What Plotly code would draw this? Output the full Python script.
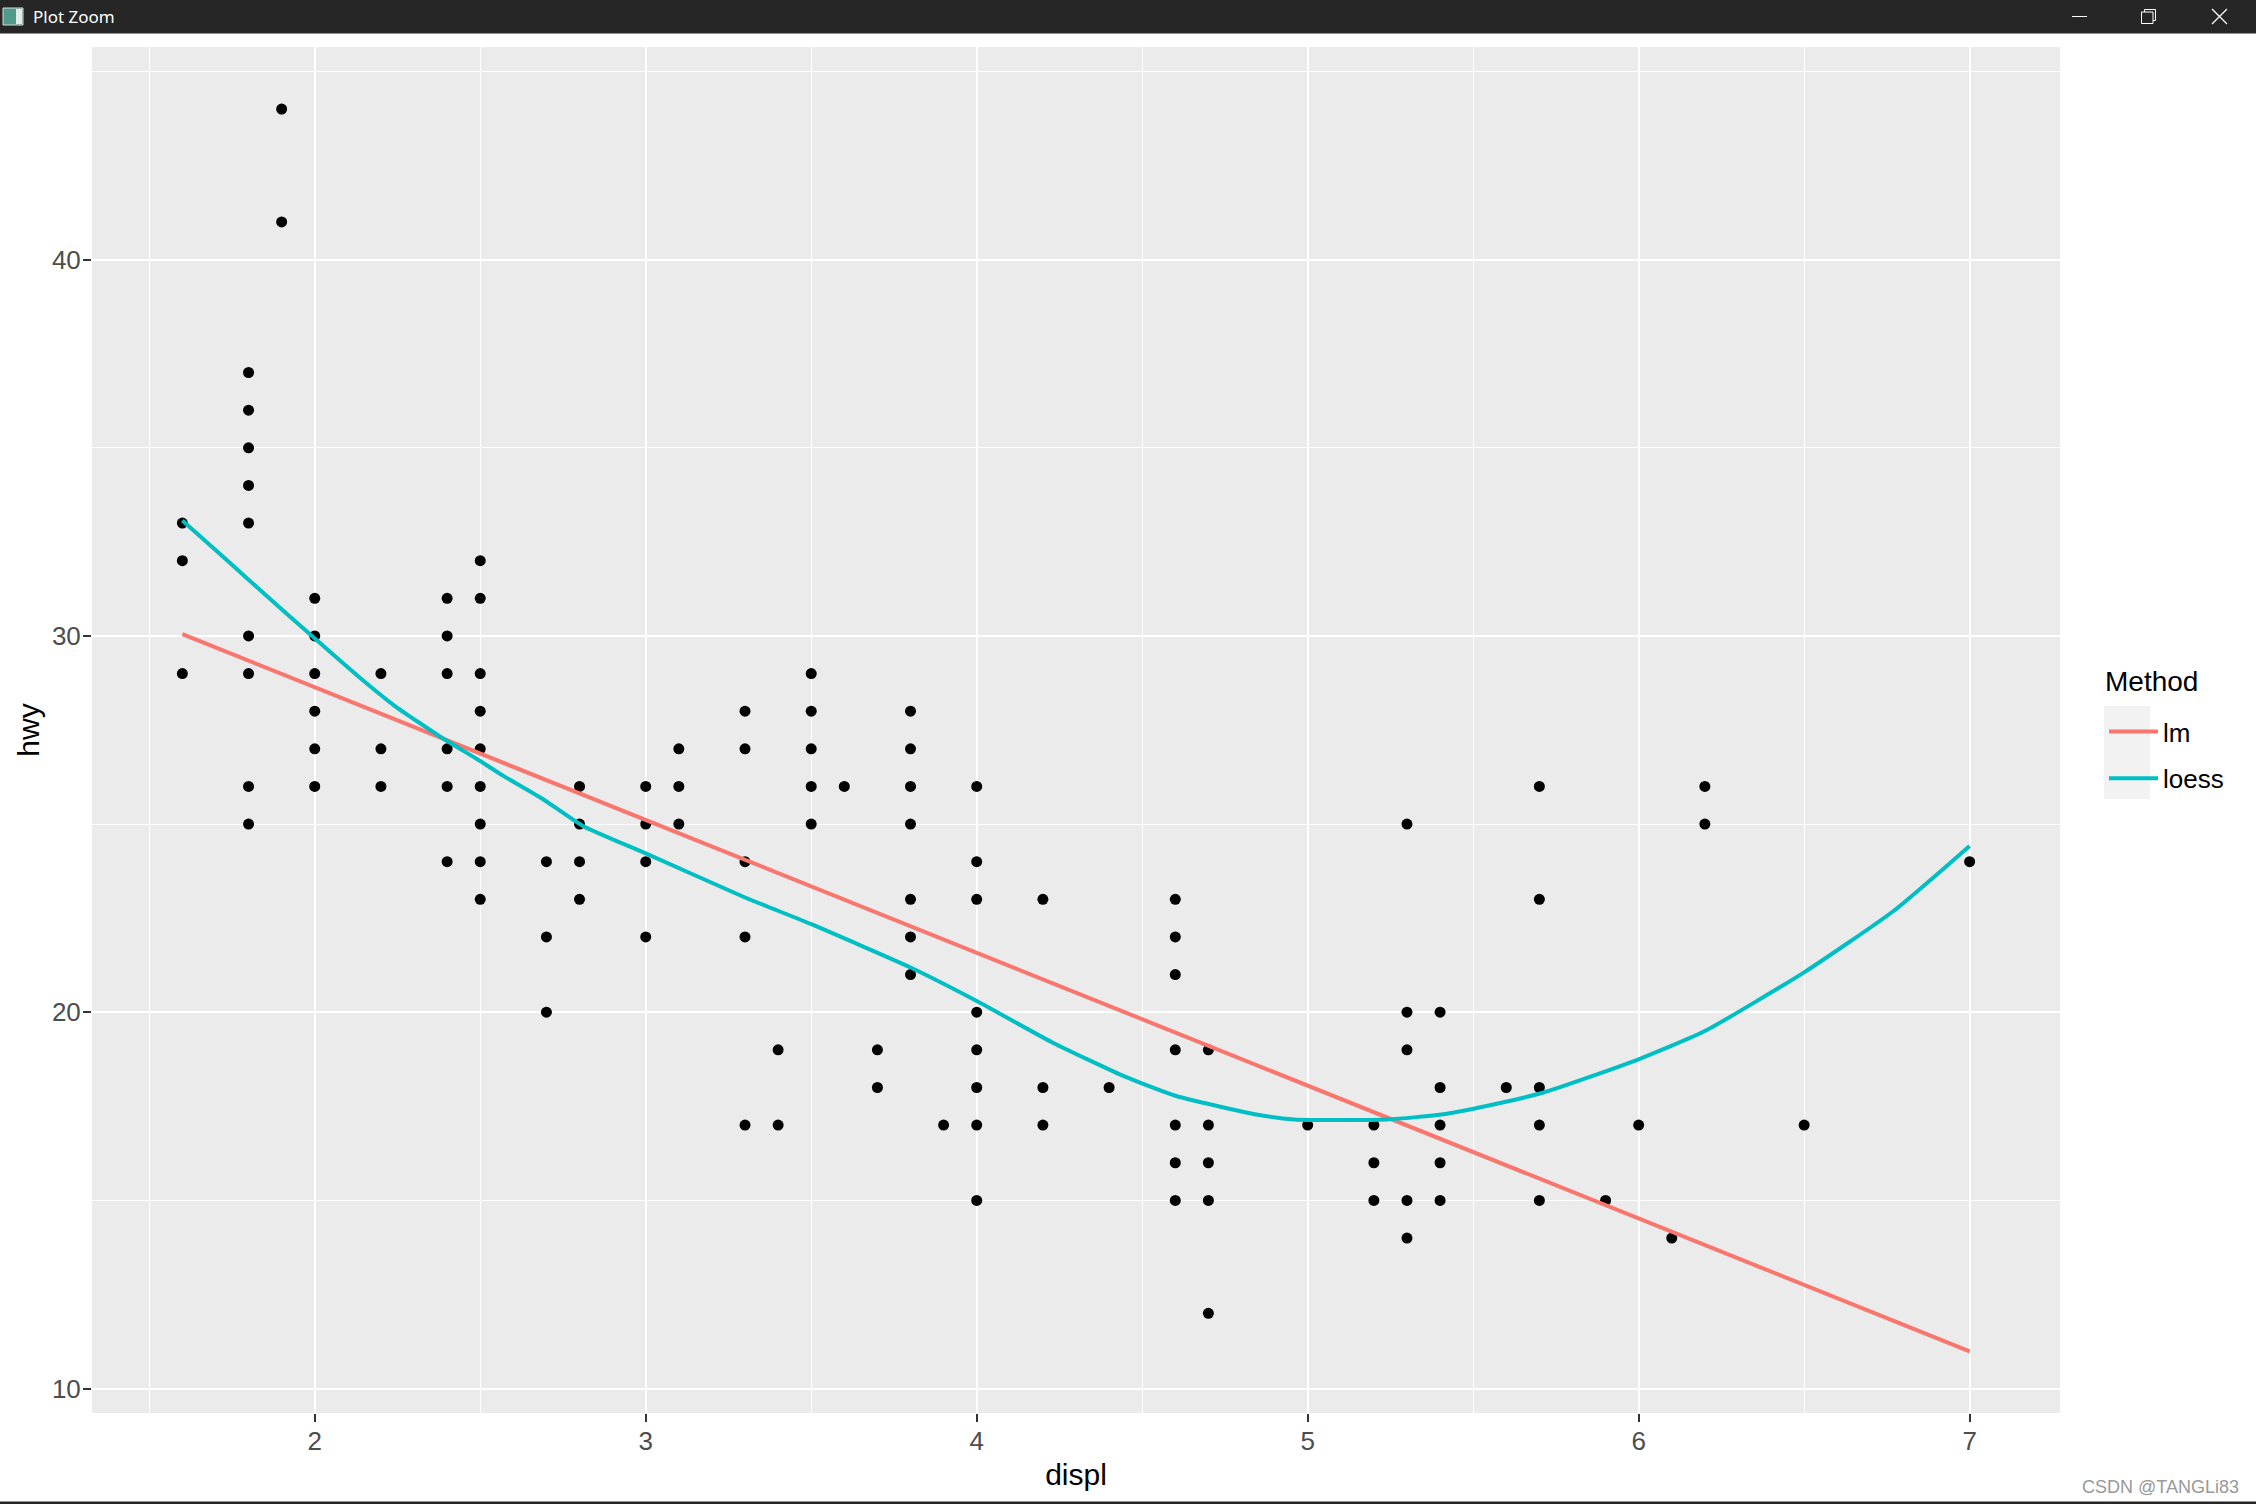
import plotly.graph_objects as go

# ---------------- data ----------------
displ = [1.6, 1.6, 1.6,
         1.8, 1.8, 1.8, 1.8, 1.8, 1.8, 1.8, 1.8, 1.8,
         1.9, 1.9,
         2.0, 2.0, 2.0, 2.0, 2.0, 2.0,
         2.2, 2.2, 2.2,
         2.4, 2.4, 2.4, 2.4, 2.4, 2.4,
         2.5, 2.5, 2.5, 2.5, 2.5, 2.5, 2.5, 2.5, 2.5,
         2.7, 2.7, 2.7,
         2.8, 2.8, 2.8, 2.8,
         3.0, 3.0, 3.0, 3.0,
         3.1, 3.1, 3.1,
         3.3, 3.3, 3.3, 3.3, 3.3,
         3.4, 3.4,
         3.5, 3.5, 3.5, 3.5, 3.5,
         3.6,
         3.7, 3.7,
         3.8, 3.8, 3.8, 3.8, 3.8, 3.8, 3.8,
         3.9,
         4.0, 4.0, 4.0, 4.0, 4.0, 4.0, 4.0, 4.0,
         4.2, 4.2, 4.2,
         4.4,
         4.6, 4.6, 4.6, 4.6, 4.6, 4.6, 4.6,
         4.7, 4.7, 4.7, 4.7, 4.7,
         5.0,
         5.2, 5.2, 5.2,
         5.3, 5.3, 5.3, 5.3, 5.3,
         5.4, 5.4, 5.4, 5.4, 5.4,
         5.6,
         5.7, 5.7, 5.7, 5.7, 5.7,
         5.9, 6.0, 6.1,
         6.2, 6.2,
         6.5, 7.0]
hwy = [33, 32, 29,
       37, 36, 35, 34, 33, 30, 29, 26, 25,
       44, 41,
       31, 30, 29, 28, 27, 26,
       29, 27, 26,
       31, 30, 29, 27, 26, 24,
       32, 31, 29, 28, 27, 26, 25, 24, 23,
       24, 22, 20,
       26, 25, 24, 23,
       26, 25, 24, 22,
       27, 26, 25,
       28, 27, 24, 22, 17,
       19, 17,
       29, 28, 27, 26, 25,
       26,
       19, 18,
       28, 27, 26, 25, 23, 22, 21,
       17,
       26, 24, 23, 20, 19, 18, 17, 15,
       23, 18, 17,
       18,
       23, 22, 21, 19, 17, 16, 15,
       19, 17, 16, 15, 12,
       17,
       17, 16, 15,
       25, 20, 19, 15, 14,
       20, 18, 17, 16, 15,
       18,
       26, 23, 18, 17, 15,
       15, 17, 14,
       26, 25,
       17, 24]

lm_x = [1.6, 7.0]
lm_y = [30.05, 10.99]

loess_x = [1.60, 1.74, 1.85, 1.99, 2.14, 2.24, 2.39, 2.49, 2.57, 2.69, 2.81,
           3.00, 3.30, 3.50, 3.80, 4.00, 4.23, 4.45, 4.60, 4.84, 4.96, 5.24,
           5.41, 5.54, 5.71, 6.00, 6.20, 6.50, 6.77, 7.00]
loess_y = [33.07, 31.97, 31.10, 30.01, 28.86, 28.15, 27.26, 26.73, 26.28, 25.66, 24.95,
           24.22, 23.05, 22.34, 21.19, 20.30, 19.19, 18.28, 17.78, 17.29, 17.15, 17.15,
           17.29, 17.51, 17.86, 18.75, 19.50, 21.06, 22.69, 24.42]

x_ticks = [2, 3, 4, 5, 6, 7]
y_ticks = [10, 20, 30, 40]
series_names = ["lm", "loess"]
series_colors = ["#F8766D", "#00BFC4"]
legend_title = "Method"

# ---------------- layout geometry ----------------
W, H = 2256, 1504
L, R, T, B = 92, 2060, 47, 1413
FONT = "Liberation Sans, Arial, sans-serif"


def px(x):
    return (x - L) / (R - L)


def py(y):
    return (B - y) / (B - T)


fig = go.Figure()
fig.add_trace(go.Scatter(x=displ, y=hwy, mode="markers",
                         marker=dict(color="black", size=11),
                         showlegend=False, hoverinfo="x+y"))
fig.add_trace(go.Scatter(x=lm_x, y=lm_y, mode="lines", name=series_names[0],
                         legendgroup=series_names[0],
                         line=dict(color=series_colors[0], width=4)))
fig.add_trace(go.Scatter(x=loess_x, y=loess_y, mode="lines", name=series_names[1],
                         legendgroup=series_names[1],
                         line=dict(color=series_colors[1], width=4,
                                   shape="spline", smoothing=0.5)))

tickfont = dict(family=FONT, size=26, color="#4D4D4D")
titlefont = dict(family=FONT, size=30, color="black")

fig.update_xaxes(range=[1.327, 7.273], tickvals=x_ticks, ticks="outside", ticklen=8,
                 tickwidth=2, tickcolor="#333333", tickfont=tickfont,
                 ticklabelstandoff=-3,
                 showgrid=True, gridcolor="white", gridwidth=2.4, zeroline=False,
                 showline=False,
                 minor=dict(tick0=0, dtick=0.5, showgrid=True, gridcolor="white",
                            gridwidth=1.2, ticks=""),
                 title=dict(text="displ", font=titlefont, standoff=8))
fig.update_yaxes(range=[9.35, 45.65], tickvals=y_ticks, ticks="outside", ticklen=8,
                 tickwidth=2, tickcolor="#333333", tickfont=tickfont,
                 ticklabelstandoff=-3,
                 showgrid=True, gridcolor="white", gridwidth=2.4, zeroline=False,
                 showline=False,
                 minor=dict(tick0=0, dtick=5, showgrid=True, gridcolor="white",
                            gridwidth=1.2, ticks=""),
                 title=dict(text="hwy", font=titlefont, standoff=3))

shapes = []
# legend key background
shapes.append(dict(type="rect", xref="paper", yref="paper",
                   x0=px(2104), x1=px(2150), y0=py(799), y1=py(706),
                   fillcolor="#F2F2F2", line=dict(width=0), layer="below"))
# window title bar
shapes.append(dict(type="rect", xref="paper", yref="paper",
                   x0=px(0), x1=px(W), y0=py(33.5), y1=py(0),
                   fillcolor="#262626", line=dict(width=0)))
# bottom window border
shapes.append(dict(type="rect", xref="paper", yref="paper",
                   x0=px(0), x1=px(W), y0=py(H), y1=py(1501.5),
                   fillcolor="#262626", line=dict(width=0)))
# small app icon
shapes.append(dict(type="rect", xref="paper", yref="paper",
                   x0=px(3), x1=px(23), y0=py(25), y1=py(8),
                   fillcolor="#4F9A8A", line=dict(color="#D8D8D8", width=1)))
shapes.append(dict(type="rect", xref="paper", yref="paper",
                   x0=px(16), x1=px(22), y0=py(24), y1=py(9),
                   fillcolor="#E8E8E8", line=dict(width=0)))
# minimize
shapes.append(dict(type="line", xref="paper", yref="paper",
                   x0=px(2072), x1=px(2087), y0=py(16.5), y1=py(16.5),
                   line=dict(color="white", width=1)))
# restore
shapes.append(dict(type="rect", xref="paper", yref="paper",
                   x0=px(2141.5), x1=px(2153), y0=py(23.5), y1=py(12),
                   line=dict(color="white", width=1)))
shapes.append(dict(type="path", xref="paper", yref="paper",
                   path="M %f,%f L %f,%f L %f,%f L %f,%f L %f,%f" % (
                       px(2144.5), py(12), px(2144.5), py(9.5), px(2155.5), py(9.5),
                       px(2155.5), py(20.5), px(2153), py(20.5)),
                   line=dict(color="white", width=1)))
# close
shapes.append(dict(type="line", xref="paper", yref="paper",
                   x0=px(2212), x1=px(2227), y0=py(9), y1=py(24),
                   line=dict(color="white", width=1.2)))
shapes.append(dict(type="line", xref="paper", yref="paper",
                   x0=px(2212), x1=px(2227), y0=py(24), y1=py(9),
                   line=dict(color="white", width=1.2)))

annotations = [
    dict(text=legend_title, xref="paper", yref="paper", x=px(2103), y=py(681),
         xanchor="left", yanchor="middle", showarrow=False,
         font=dict(family=FONT, size=28, color="black")),
    dict(text="Plot Zoom", xref="paper", yref="paper", x=px(31), y=py(17),
         xanchor="left", yanchor="middle", showarrow=False,
         font=dict(family="Noto Sans, Open Sans, sans-serif", size=17, color="white")),
    dict(text="CSDN @TANGLi83", xref="paper", yref="paper", x=px(2241), y=py(1487),
         xanchor="right", yanchor="middle", showarrow=False,
         font=dict(family=FONT, size=18, color="#999999")),
]

fig.update_layout(
    width=W, height=H,
    margin=dict(l=L, r=W - R, t=T, b=H - B, autoexpand=False),
    paper_bgcolor="white", plot_bgcolor="#EBEBEB",
    shapes=shapes, annotations=annotations,
    legend=dict(font=dict(family=FONT, size=26, color="black"),
                x=px(2104), xanchor="left", y=py(755), yanchor="middle",
                bgcolor="rgba(0,0,0,0)", tracegroupgap=10, itemwidth=49),
    showlegend=True,
)

fig.write_html("out.html")
